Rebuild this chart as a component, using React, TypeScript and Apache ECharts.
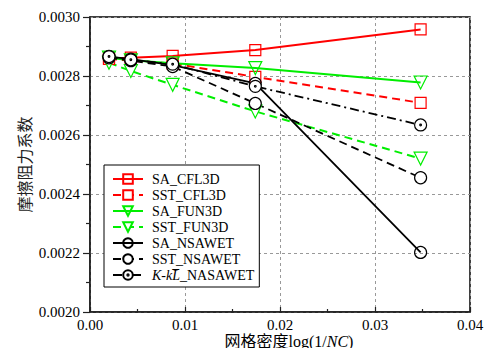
import React, { useEffect, useRef } from "react";
import * as echarts from "echarts";

// Grid density values log(1/NC) and skin-friction coefficients per solver/turbulence model
const gridDensity = [0.002, 0.0043, 0.0087, 0.0174, 0.0348];
const saCfl3d = [0.00286, 0.002862, 0.002868, 0.002888, 0.002958];
const sstCfl3d = [0.002858, 0.002852, 0.002842, 0.002797, 0.002709];
const saFun3d = [0.002862, 0.002853, 0.002843, 0.002827, 0.002778];
const sstFun3d = [0.002845, 0.002817, 0.00277, 0.00268, 0.00252];
const saNsawet = [0.002866, 0.002857, 0.002837, 0.002775, 0.002202];
const sstNsawet = [0.002862, 0.002852, 0.002832, 0.002707, 0.002455];
const kklNsawet = [0.002866, 0.002855, 0.00284, 0.002765, 0.002634];

const seriesNames = [
  "SA_CFL3D",
  "SST_CFL3D",
  "SA_FUN3D",
  "SST_FUN3D",
  "SA_NSAWET",
  "SST_NSAWET",
  "K-kL_NASAWET",
];

const xTicks = { min: 0, max: 0.04, interval: 0.01 };
const yTicks = { min: 0.002, max: 0.003, interval: 0.0002 };

const SERIF = "'Liberation Serif', 'Times New Roman', serif";
const CJK = "'Liberation Serif', 'Noto Sans CJK SC', serif";

// ring with a centre dot
const DOT_CIRCLE =
  "path://M0,-10A10,10 0 1,1 0,10A10,10 0 1,1 0,-10ZM0,-1.4A1.4,1.4 0 1,1 0,1.4A1.4,1.4 0 1,1 0,-1.4Z";

const pairs = (ys: number[]) => gridDensity.map((x, i) => [x, ys[i]]);

function makeSeries(
  name: string,
  ys: number[],
  color: string,
  symbol: string,
  lineType: any,
  hollowFill: string,
  opts: any = {}
) {
  return {
    name,
    type: "line",
    data: pairs(ys),
    symbol,
    symbolSize: opts.symbolSize ?? 11,
    symbolRotate: opts.symbolRotate ?? 0,
    showAllSymbol: true,
    color,
    lineStyle: { color, width: opts.width ?? 2, type: lineType },
    itemStyle: { color: hollowFill, borderColor: color, borderWidth: 1.2 },
    emphasis: { disabled: true },
  };
}

export default function App() {
  const ref = useRef<HTMLDivElement>(null);

  useEffect(() => {
    if (!ref.current) return;
    const chart = echarts.init(ref.current, null, { renderer: "svg" });
    const RED = "#ff0000";
    const GREEN = "#00ee00";
    const BLACK = "#000000";
    const clear = "rgba(255,255,255,0)";
    const white = "#ffffff";

    chart.setOption({
      animation: false,
      backgroundColor: "#fff",
      grid: {
        left: 90,
        right: 23,
        top: 17,
        bottom: 44,
        show: true,
        borderColor: "#000",
        borderWidth: 1.5,
        backgroundColor: "transparent",
      },
      legend: {
        orient: "vertical",
        left: 104,
        top: 165,
        itemWidth: 30,
        itemHeight: 12,
        itemGap: 2,
        padding: [7, 5, 5, 8],
        backgroundColor: "#fff",
        borderColor: "#000",
        borderWidth: 1,
        borderRadius: 0,
        data: seriesNames,
        formatter: (n: string) =>
          n === "K-kL_NASAWET" ? "{i|K-kL\u0305}{t|_NASAWET}" : n,
        textStyle: {
          fontFamily: SERIF,
          fontSize: 14,
          lineHeight: 13,
          color: "#000",
          padding: [0, 0, 0, 4],
          rich: {
            i: { fontFamily: SERIF, fontSize: 14, lineHeight: 13, fontStyle: "italic", color: "#000" },
            t: { fontFamily: SERIF, fontSize: 14, lineHeight: 13, color: "#000" },
          },
        },
      },
      xAxis: {
        type: "value",
        min: xTicks.min,
        max: xTicks.max,
        interval: xTicks.interval,
        name: "网格密度log(1/{i|NC})",
        nameLocation: "middle",
        nameGap: 21,
        nameMoveOverlap: false,
        nameTextStyle: {
          fontFamily: CJK,
          fontSize: 16,
          color: "#000",
          padding: [0, 0, 0, 18],
          rich: {
            i: { fontFamily: SERIF, fontSize: 16, fontStyle: "italic", color: "#000" },
          },
        },
        axisLine: { lineStyle: { color: "#222", width: 1.5 } },
        axisTick: { inside: true, length: 5, lineStyle: { color: "#222", width: 1.2 } },
        minorTick: { show: true, splitNumber: 2, length: 3, lineStyle: { color: "#222", width: 1.2 } },
        axisLabel: {
          fontFamily: SERIF,
          fontSize: 15,
          color: "#000",
          margin: 5,
          formatter: (v: number) => v.toFixed(2),
        },
        splitLine: { lineStyle: { color: "#999", type: [3, 3], width: 1 } },
      },
      yAxis: {
        type: "value",
        min: yTicks.min,
        max: yTicks.max,
        interval: yTicks.interval,
        name: "摩擦阻力系数",
        nameLocation: "middle",
        nameGap: 58,
        nameMoveOverlap: false,
        nameTextStyle: { fontFamily: "'Noto Sans CJK SC'", fontSize: 16, color: "#222" },
        axisLine: { show: true, lineStyle: { color: "#222", width: 1.5 } },
        axisTick: { length: 7, lineStyle: { color: "#222", width: 1.2 } },
        minorTick: { show: true, splitNumber: 2, length: 4, lineStyle: { color: "#222", width: 1.2 } },
        axisLabel: {
          fontFamily: SERIF,
          fontSize: 15,
          color: "#000",
          margin: 10,
          formatter: (v: number) => v.toFixed(4),
        },
        splitLine: { lineStyle: { color: "#999", type: [3, 3], width: 1 } },
      },
      series: [
        makeSeries(seriesNames[0], saCfl3d, RED, "rect", "solid", clear),
        makeSeries(seriesNames[1], sstCfl3d, RED, "rect", [8, 5], white),
        makeSeries(seriesNames[2], saFun3d, GREEN, "triangle", "solid", clear, { symbolRotate: 180, symbolSize: 13 }),
        makeSeries(seriesNames[3], sstFun3d, GREEN, "triangle", [8, 5], white, { symbolRotate: 180, symbolSize: 13 }),
        makeSeries(seriesNames[4], saNsawet, BLACK, "circle", "solid", clear, { width: 1.8, symbolSize: 12 }),
        makeSeries(seriesNames[5], sstNsawet, BLACK, "circle", [8, 5], white, { width: 1.8, symbolSize: 12 }),
        makeSeries(seriesNames[6], kklNsawet, BLACK, DOT_CIRCLE, [9, 4, 2, 4], white, { width: 1.8, symbolSize: 12 }),
      ],
    });

    return () => chart.dispose();
  }, []);

  return <div ref={ref} style={{ width: 493, height: 356, margin: -8 }} />;
}
